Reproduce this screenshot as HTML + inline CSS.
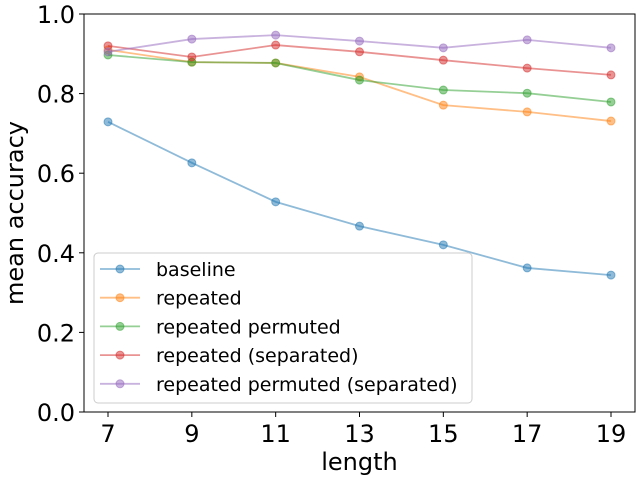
<!DOCTYPE html>
<html><head><meta charset="utf-8"><style>
body{margin:0;background:#fff;}
svg text{font-family:"DejaVu Sans","Liberation Sans",sans-serif;}
</style></head><body>
<svg id="c" width="640" height="480" xmlns="http://www.w3.org/2000/svg">
<rect x="0" y="0" width="640" height="480" fill="#fff"/>
<g id="plot"></g>
</svg>
<script>
const categories=[7,9,11,13,15,17,19];
const seriesNames=["baseline","repeated","repeated permuted","repeated (separated)","repeated permuted (separated)"];
const baseline=[0.729,0.626,0.528,0.467,0.420,0.362,0.344];
const repeated=[0.910,0.879,0.877,0.842,0.771,0.754,0.731];
const repeatedPermuted=[0.897,0.879,0.877,0.834,0.809,0.801,0.779];
const repeatedSeparated=[0.920,0.892,0.922,0.905,0.884,0.864,0.847];
const repeatedPermutedSeparated=[0.905,0.937,0.947,0.932,0.915,0.935,0.915];
const yTicks=[0.0,0.2,0.4,0.6,0.8,1.0];
const colors=["#1f77b4","#ff7f0e","#2ca02c","#d62728","#9467bd"];
const allSeries=[baseline,repeated,repeatedPermuted,repeatedSeparated,repeatedPermutedSeparated];
const NS="http://www.w3.org/2000/svg";
const g=document.getElementById('plot');
const L=84,R=635,T=14,B=412;
function xs(v){return 108+(v-7)*(611-108)/12;}
function ys(v){return B-v*(B-T);}
function mk(t,a,p){const e=document.createElementNS(NS,t);for(const k in a)e.setAttribute(k,a[k]);(p||g).appendChild(e);return e;}
allSeries.forEach((s,i)=>{
  const grp=mk('g',{});
  
  
  const pts=s.map((v,j)=>xs(categories[j])+','+ys(v)).join(' ');
  const pl=mk('polyline',{points:pts,fill:'none',stroke:colors[i],'stroke-width':1.8,'stroke-opacity':0.5},grp);
  
  
  s.forEach((v,j)=>{
    const c=mk('circle',{cx:xs(categories[j]),cy:ys(v),r:4,fill:colors[i],'fill-opacity':0.5,stroke:colors[i],'stroke-opacity':0.5},grp);
    
    
  });
});
const fr=mk('rect',{x:L,y:T,width:R-L,height:B-T,fill:'none',stroke:'#000','stroke-width':1});


categories.forEach(c=>{
  const x=xs(c);
  const tk=mk('line',{x1:x,x2:x,y1:B,y2:B+5,stroke:'#000'});
  
  
  const t=mk('text',{x:x,y:B+30,'text-anchor':'middle','font-size':24});
  t.textContent=c;
  
  
});
yTicks.forEach(v=>{
  const y=ys(v);
  const tk=mk('line',{x1:L-5,x2:L,y1:y,y2:y,stroke:'#000'});
  
  
  const t=mk('text',{x:L-9,y:y+9,'text-anchor':'end','font-size':24});
  t.textContent=v.toFixed(1);
  
  
});
const xt=mk('text',{x:(L+R)/2,y:470,'text-anchor':'middle','font-size':24});
xt.textContent='length';


const yt=mk('text',{x:0,y:0,'text-anchor':'middle','font-size':24,transform:'translate(23,'+((T+B)/2)+') rotate(-90)'});
yt.textContent='mean accuracy';


const lg=mk('g',{});


mk('rect',{x:94,y:253,width:378,height:150,rx:4,fill:'#fff','fill-opacity':0.8,stroke:'#ccc'},lg);
seriesNames.forEach((n,i)=>{
  const y=269+i*28.7;
  const e=mk('g',{},lg);
  
  
  mk('line',{x1:100,x2:140,y1:y,y2:y,stroke:colors[i],'stroke-width':1.8,'stroke-opacity':0.5},e);
  mk('circle',{cx:120,cy:y,r:4,fill:colors[i],'fill-opacity':0.5,stroke:colors[i],'stroke-opacity':0.5},e);
  const t=mk('text',{x:156,y:y+7,'font-size':19},e);
  t.textContent=n;
});
</script>
</body></html>
